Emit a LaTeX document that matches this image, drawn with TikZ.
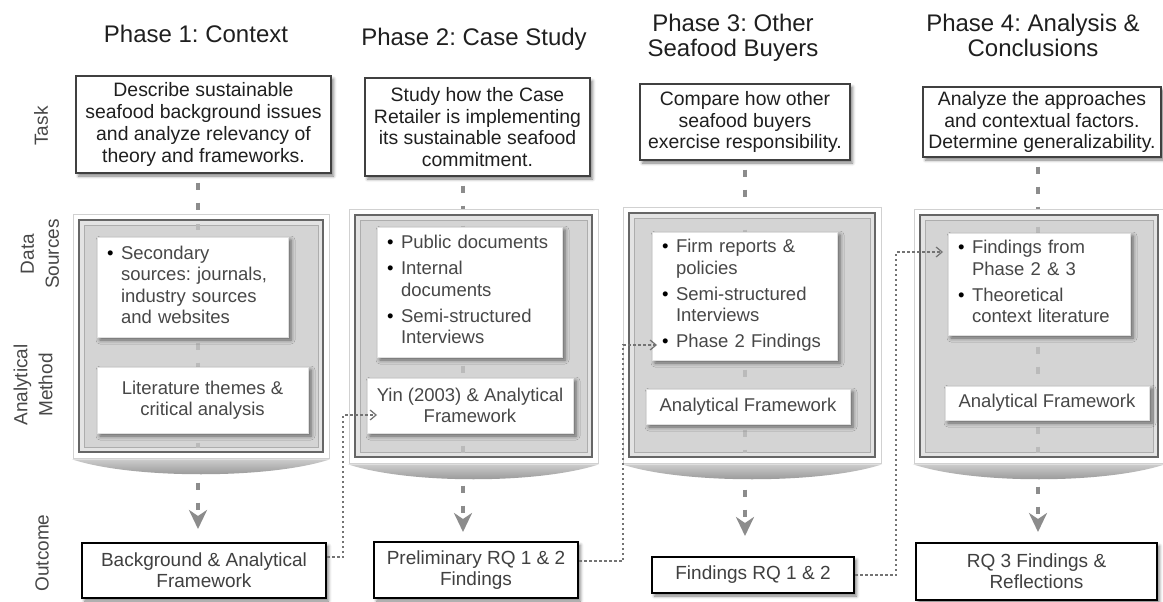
\documentclass[tikz,border=0pt]{standalone}
\usepackage{fontspec}
\setmainfont{Liberation Sans}
\usetikzlibrary{arrows.meta,shadows.blur}
\frenchspacing
\newcommand\bul{\makebox[14pt][l]{\textcolor{black}{\textbullet}}}

\begin{document}
\begin{tikzpicture}[x=1pt,y=-1pt,
  every node/.style={inner sep=0pt},
  title/.style={anchor=north, align=center, font=\fontsize{24}{25}\selectfont, text=black!88},
  rowlabel/.style={rotate=90, align=center, font=\fontsize{19}{25}\selectfont, text=black!72},
  taskbox/.style={draw=black!75, line width=1.1pt, fill=white, align=center,
    font=\fontsize{19.4}{21.7}\selectfont, text=black!88,
    blur shadow={shadow xshift=2.5pt, shadow yshift=-3pt, shadow blur radius=3pt, shadow opacity=50}},
  panel/.style={draw=black!60, line width=1.5pt, fill=black!11,
    preaction={draw=black!18, line width=13pt},
    preaction={draw=white, line width=11pt}},
  panelcore/.style={draw=black!32, line width=0.7pt, fill=black!17},
  lens/.style={top color=black!20, bottom color=black!46},
  srcbox/.style={fill=white, draw=black!12, line width=0.5pt, align=left, inner xsep=10pt,
    font=\fontsize{18.5}{21.5}\selectfont, text=black!72,
    blur shadow={shadow xshift=3pt, shadow yshift=-3pt, shadow blur radius=4pt, shadow opacity=55}},
  methbox/.style={srcbox, align=center, inner xsep=0pt},
  outbox/.style={draw=black, line width=2pt, fill=white, align=center,
    font=\fontsize{19}{21}\selectfont, text=black!75,
    blur shadow={shadow xshift=2.5pt, shadow yshift=-3pt, shadow blur radius=3pt, shadow opacity=50}},
  flow/.style={draw=black!45, line width=4pt, dash pattern=on 7pt off 13pt, dash phase=11pt,
    -{Stealth[length=19pt,width=18pt,inset=6pt]}},
  flowfaint/.style={flow, draw=black!27},
  link/.style={draw=black!55, line width=1.2pt, dash pattern=on 2.5pt off 2.5pt,
    -{Straight Barb[length=6pt,width=10pt]}},
]
\useasboundingbox (0,0) rectangle (1163,602);

% column axes
\coordinate (c1) at (198,0);
\coordinate (c2) at (463,0);
\coordinate (c3) at (745,0);
\coordinate (c4) at (1038,0);

% phase headings
\node[title] (h1) at (196,25) {Phase 1: Context};
\node[title] (h2) at (474,27.5) {Phase 2: Case Study};
\node[title] (h3) at (733,13.5) {Phase 3: Other\\Seafood Buyers};
\node[title] (h4) at (1033,13.5) {Phase 4: Analysis \&\\Conclusions};

% row labels
\node[rowlabel] (r1) at (41,126) {Task};
\node[rowlabel] (r2) at (40,254) {Data\\Sources};
\node[rowlabel] (r3) at (33,385) {Analytical\\Method};
\node[rowlabel] (r4) at (42,553) {Outcome};

% task boxes
\node[taskbox, minimum width=255pt, minimum height=97pt] (T1) at (203.5,124.5)
  {Describe sustainable\\seafood background issues\\and analyze relevancy of\\theory and frameworks.};
\node[taskbox, minimum width=225pt, minimum height=98pt] (T2) at (477.5,127)
  {Study how the Case\\Retailer is implementing\\its sustainable seafood\\commitment.};
\node[taskbox, minimum width=210pt, minimum height=76pt] (T3) at (745,122)
  {Compare how other\\seafood buyers\\exercise responsibility.};
\node[taskbox, minimum width=238pt, minimum height=70pt] (T4) at (1042,122)
  {Analyze the approaches\\and contextual factors.\\Determine generalizability.};

% outcome boxes
\node[outbox, minimum width=244pt, minimum height=55pt] (O1) at (204,570.5)
  {Background \& Analytical\\Framework};
\node[outbox, minimum width=204pt, minimum height=56pt] (O2) at (476,570)
  {Preliminary RQ 1 \& 2\\Findings};
\node[outbox, minimum width=202pt, minimum height=36pt] (O3) at (753,575)
  {Findings RQ 1 \& 2};
\node[outbox, minimum width=241pt, minimum height=57pt] (O4) at (1036.5,571.5)
  {RQ 3 Findings \&\\Reflections};

% main flow of each phase
\draw[flow, shorten >=13pt] (T1.south -| c1) -- (O1.north -| c1);
\draw[flow, shorten >=9pt]  (T2.south -| c2) -- (O2.north -| c2);
\draw[flow, shorten >=20pt] (T3.south -| c3) -- (O3.north -| c3);
\draw[flow, shorten >=10pt] (T4.south -| c4) -- (O4.north -| c4);

% grey panels holding sources and method
\node[panel, minimum width=244pt, minimum height=232pt] (G1) at (201,336) {};
\node[panel, minimum width=237pt, minimum height=242pt] (G2) at (473.5,336) {};
\node[panel, minimum width=246pt, minimum height=244pt] (G3) at (752,335) {};
\node[panel, minimum width=238pt, minimum height=242pt] (G4) at (1039,336) {};

\foreach \g in {G1,G2,G3,G4}{
  \shade[lens] ([shift={(-6.5,6.5)}]\g.south west) .. controls +(60,20) and +(-60,20)
    .. ([shift={(6.5,6.5)}]\g.south east) -- cycle;
}

\node[panelcore, minimum width=234pt, minimum height=222pt] (K1) at (G1.center) {};
\node[panelcore, minimum width=227pt, minimum height=232pt] (K2) at (G2.center) {};
\node[panelcore, minimum width=236pt, minimum height=234pt] (K3) at (G3.center) {};
\node[panelcore, minimum width=228pt, minimum height=232pt] (K4) at (G4.center) {};

% flow seen through the panels
\begin{scope}
  \clip (K1.north west) rectangle (K1.south east);
  \draw[flowfaint, shorten >=13pt] (T1.south -| c1) -- (O1.north -| c1);
\end{scope}
\begin{scope}
  \clip (K2.north west) rectangle (K2.south east);
  \draw[flowfaint, shorten >=9pt] (T2.south -| c2) -- (O2.north -| c2);
\end{scope}
\begin{scope}
  \clip (K3.north west) rectangle (K3.south east);
  \draw[flowfaint, shorten >=20pt] (T3.south -| c3) -- (O3.north -| c3);
\end{scope}
\begin{scope}
  \clip (K4.north west) rectangle (K4.south east);
  \draw[flowfaint, shorten >=10pt] (T4.south -| c4) -- (O4.north -| c4);
\end{scope}

% data sources
\node[srcbox, text width=171pt, minimum height=100pt] (D1) at (192.5,287)
  {\begin{tabular}{@{}l@{}l@{}}\bul&Secondary\\&sources: journals,\\&industry sources\\&and websites\end{tabular}};
\node[srcbox, text width=165pt, minimum height=130pt] (D2) at (469.5,292)
  {\begin{tabular}{@{}l@{}l@{}}\bul&Public documents\\[4.5pt]\bul&Internal\\&documents\\[4.5pt]\bul&Semi-structured\\&Interviews\end{tabular}};
\node[srcbox, text width=165pt, minimum height=128pt] (D3) at (744.5,296)
  {\begin{tabular}{@{}l@{}l@{}}\bul&Firm reports \&\\&policies\\[4.5pt]\bul&Semi-structured\\&Interviews\\[4.5pt]\bul&Phase 2 Findings\end{tabular}};
\node[srcbox, text width=162pt, minimum height=102pt] (D4) at (1039,284)
  {\begin{tabular}{@{}l@{}l@{}}\bul&Findings from\\&Phase 2 \& 3\\[4.5pt]\bul&Theoretical\\&context literature\end{tabular}};

% analytical methods
\node[methbox, minimum width=211pt, minimum height=66pt] (M1) at (202.5,400)
  {Literature themes \&\\critical analysis};
\node[methbox, minimum width=206pt, minimum height=55pt] (M2) at (470,405.5)
  {Yin (2003) \& Analytical\\Framework};
\node[methbox, minimum width=204pt, minimum height=35pt] (M3) at (748,406.5)
  {Analytical Framework};
\node[methbox, minimum width=204pt, minimum height=34pt] (M4) at (1047,403)
  {Analytical Framework};

% outcomes fed into the following phase
\coordinate (y1) at (0,557);
\coordinate (y2) at (0,561);
\coordinate (e1) at (377,415);
\coordinate (e2) at (657,345);
\coordinate (e3) at (943,252);
\draw[link] (O1.east |- y1) -- ++(16,0) |- (e1);
\draw[link] (O2.east |- y2) -- ++(44,0) |- (e2);
\draw[link] (O3.east) -- ++(41,0) |- (e3);
\end{tikzpicture}
\end{document}
